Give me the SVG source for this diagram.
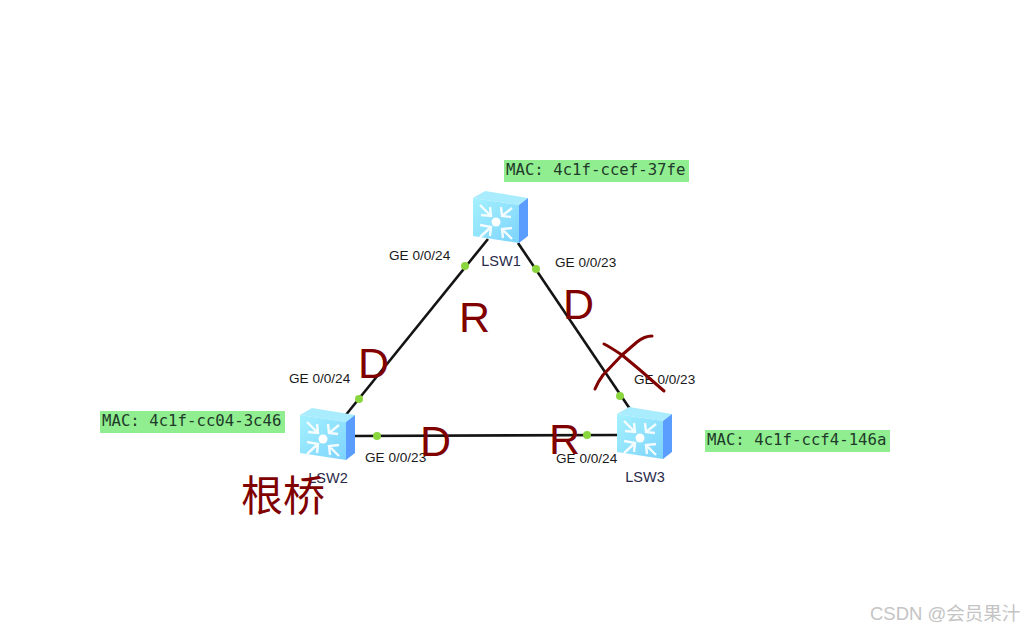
<svg xmlns="http://www.w3.org/2000/svg" width="1025" height="631" viewBox="0 0 1025 631">
<style>
.link{stroke:#141414;stroke-width:2.6;fill:none}
.dot{fill:#8ad63f}
.port{font:13.6px "Liberation Sans",Arial,sans-serif;fill:#1a1a1a}
.name{font:14.5px "Liberation Sans",Arial,sans-serif;fill:#2a2a4a;text-anchor:middle}
.mac{fill:#90ee90}
.mact{font:15.7px "DejaVu Sans Mono",monospace;fill:#1f3a2a}
.big{font:43px "Liberation Sans",Arial,sans-serif;fill:#800000}
.cn{font:42px "Noto Sans CJK SC",sans-serif;fill:#800000}
.ink{fill:none;stroke:#800000;stroke-width:3;stroke-linecap:round;stroke-linejoin:round}
.wm{font:18.5px "Liberation Sans","Noto Sans CJK SC",sans-serif;fill:#c4c4c4}
</style>
<defs>
<linearGradient id="front" x1="0" y1="0" x2="1" y2="1"><stop offset="0" stop-color="#a4f1ff"/><stop offset="1" stop-color="#7dd3fb"/></linearGradient>
<g id="sw">
<polygon points="0,7 12,0 55,7 46,14" fill="#a9ecfd"/>
<polygon points="0,7 46,14 46,52 0,45" fill="url(#front)"/>
<polygon points="46,14 55,7 55,45 46,52" fill="#5a9dff"/>
<circle cx="23" cy="31" r="4.5" fill="#fff"/>
<g fill="none" stroke="#fff" stroke-width="2.4" opacity=".9">
<path d="M7,14 L18,25 M17,16 L18,25 L8,24"/>
<path d="M39,17 L29,25 M28,16 L29,25 L38,26"/>
<path d="M7,46 L18,36 M7,34 L18,36 L17,45"/>
<path d="M39,48 L29,38 M39,37 L29,38 L30,47"/>
</g>
</g>
</defs>
<rect width="1025" height="631" fill="#fff"/>
<g id="connectors">
<line class="link" x1="488" y1="239" x2="345" y2="416"/>
<line class="link" x1="518" y1="243" x2="630" y2="409"/>
<line class="link" x1="352" y1="436" x2="618" y2="435"/>
<circle class="dot" cx="465" cy="266" r="4"/>
<circle class="dot" cx="359" cy="399" r="4"/>
<circle class="dot" cx="536" cy="269" r="4"/>
<circle class="dot" cx="620" cy="396" r="4"/>
<circle class="dot" cx="377" cy="436" r="4"/>
<circle class="dot" cx="587" cy="435" r="4"/>
<text class="port" x="389" y="260">GE 0/0/24</text>
<text class="port" x="555" y="267">GE 0/0/23</text>
<text class="port" x="289" y="383">GE 0/0/24</text>
<text class="port" x="634" y="384">GE 0/0/23</text>
<text class="port" x="365" y="462">GE 0/0/23</text>
<text class="port" x="556" y="463">GE 0/0/24</text>
</g>
<g id="LSW1"><use href="#sw" x="473" y="191"/><text class="name" x="501" y="266">LSW1</text></g>
<g id="LSW2"><use href="#sw" x="300" y="408"/><text class="name" x="328" y="483">LSW2</text></g>
<g id="LSW3"><use href="#sw" x="617" y="407"/><text class="name" x="645" y="482">LSW3</text></g>
<g id="mac1"><rect class="mac" x="504" y="160" width="185" height="22"/><text class="mact" x="506" y="175">MAC: 4c1f-ccef-37fe</text></g>
<g id="mac2"><rect class="mac" x="100" y="411" width="185" height="22"/><text class="mact" x="102" y="426">MAC: 4c1f-cc04-3c46</text></g>
<g id="mac3"><rect class="mac" x="705" y="430" width="185" height="22"/><text class="mact" x="707" y="445">MAC: 4c1f-ccf4-146a</text></g>
<g id="annotations">
<text class="big" x="358" y="378">D</text>
<text class="big" x="459" y="332">R</text>
<text class="big" x="563" y="319">D</text>
<text class="big" x="420" y="456">D</text>
<text class="big" x="549" y="454">R</text>
<text class="cn" x="241" y="511">根桥</text>
<path class="ink" d="M595,389 C597,384 600,379 603,375 L622,355 L637,342 C642,338 647,336 652,336"/>
<path class="ink" d="M604,344 C610,347 616,351 622,355 L640,370 L664,391"/>
</g>
<text class="wm" x="870" y="620">CSDN @会员果汁</text>
</svg>
